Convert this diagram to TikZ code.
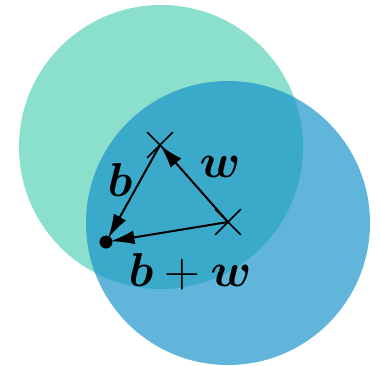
\documentclass[tikz,border=0pt]{standalone}
\usepackage{bm}
\usetikzlibrary{arrows.meta,shapes.misc}
\definecolor{mint}{RGB}{139,223,205}
\definecolor{sea}{RGB}{20,143,200}
\begin{document}
\begin{tikzpicture}[x=1pt, y=-1pt, line width=2pt,
  vec/.style={-{Latex[length=24pt,width=14pt]}, shorten >=-3pt},
  crs/.style={cross out, draw, line width=1.6pt, inner sep=0pt, minimum size=24pt},
  tip/.style={circle, fill, inner sep=0pt, minimum size=13pt},
  lbl/.style={font=\Large, scale=3.3}]
  \useasboundingbox (0,0) rectangle (380,365);
  % the two discs
  \fill[mint] (161,147) circle (142);
  \fill[sea, fill opacity=0.67] (228,223) circle (142);
  % points
  \node[crs] (bw) at (160,145) {};
  \node[crs] (ww) at (228,222) {};
  \node[tip] (o) at (106,242) {};
  % vectors
  \draw[vec] (bw.center) -- (o);
  \draw[vec, shorten >=0pt] (ww.center) -- (bw.center);
  \draw[vec] (ww.center) -- (o);
  \node[lbl] (lb) at (120,180) {$\bm{b}$};
  \node[lbl] (lw) at (220,167) {$\bm{w}$};
  \node[lbl] (lbw) at (190,272) {$\bm{b}+\bm{w}$};
\end{tikzpicture}
\end{document}
